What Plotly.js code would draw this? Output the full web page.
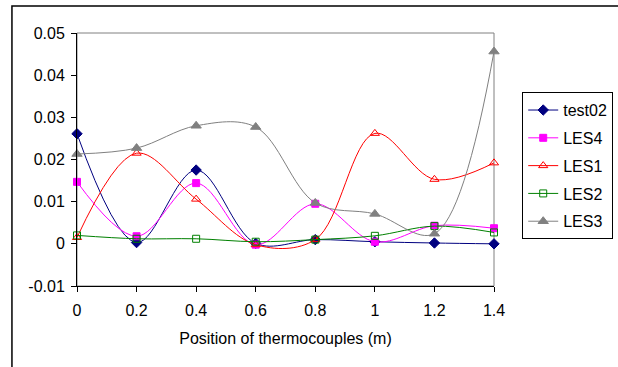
<!DOCTYPE html>
<html><head><meta charset="utf-8">
<script src="https://cdn.plot.ly/plotly-3.0.1.min.js"></script>
<style>html,body{margin:0;padding:0;background:#fff;}#chart{width:618px;height:367px;}</style>
</head><body><div id="chart"></div>
<script>
const positions = [0, 0.2, 0.4, 0.6, 0.8, 1.0, 1.2, 1.4];
const test02 = [0.0261, 0.0003, 0.0175, 0.0001, 0.0010, 0.0005, 0.0002, 0.0000];
const les4   = [0.0147, 0.0018, 0.0144, -0.0002, 0.0095, 0.0005, 0.0043, 0.0037];
const les1   = [0.0015, 0.0215, 0.0106, -0.0002, 0.0010, 0.0262, 0.0153, 0.0192];
const les2   = [0.0020, 0.0012, 0.0012, 0.0005, 0.0010, 0.0019, 0.0042, 0.0027];
const les3   = [0.0213, 0.0227, 0.0280, 0.0277, 0.0097, 0.0071, 0.0024, 0.0456];
const seriesNames = ['test02', 'LES4', 'LES1', 'LES2', 'LES3'];
const xTickVals = [0, 0.2, 0.4, 0.6, 0.8, 1.0, 1.2, 1.4];
const xTickText = ['0', '0.2', '0.4', '0.6', '0.8', '1', '1.2', '1.4'];
const yTickVals = [-0.01, 0, 0.01, 0.02, 0.03, 0.04, 0.05];
const yTickText = ['-0.01', '0', '0.01', '0.02', '0.03', '0.04', '0.05'];

const styles = [
  {color: '#000080', symbol: 'diamond', size: 8},
  {color: '#FF00FF', symbol: 'square', size: 7},
  {color: '#FF0000', symbol: 'triangle-up-open', size: 8},
  {color: '#008000', symbol: 'square-open', size: 7},
  {color: '#808080', symbol: 'triangle-up', size: 9}
];
const values = [test02, les4, les1, les2, les3];
const traces = values.map((v, i) => ({
  x: positions, y: v, name: seriesNames[i], type: 'scatter', mode: 'lines+markers',
  legendgroup: 'g' + i, cliponaxis: false,
  line: {color: styles[i].color, width: 1, shape: 'spline', smoothing: 1},
  marker: {color: styles[i].color, symbol: styles[i].symbol, size: styles[i].size,
           line: {color: styles[i].color, width: 1}}
}));

const font = {family: 'Liberation Sans, Arial, sans-serif', size: 16, color: '#000'};
const layout = {
  width: 618, height: 367,
  margin: {l: 77, r: 124, t: 33, b: 81},
  paper_bgcolor: '#fff', plot_bgcolor: '#fff',
  font: font,
  showlegend: true,
  legend: {xref: 'container', yref: 'container', x: 0.845, y: 0.749,
           xanchor: 'left', yanchor: 'top',
           bordercolor: '#000', borderwidth: 1, bgcolor: '#fff',
           font: font, tracegroupgap: 4, itemwidth: 30},
  xaxis: {range: [0, 1.4], tickvals: xTickVals, ticktext: xTickText,
          showgrid: false, zeroline: false, showline: true, linecolor: '#000', linewidth: 1,
          ticks: 'outside', ticklen: 5, tickcolor: '#000', ticklabelstandoff: 5,
          title: {text: 'Position of thermocouples (m)', font: font, standoff: 14}},
  yaxis: {range: [-0.01, 0.05], tickvals: yTickVals, ticktext: yTickText,
          showgrid: false, zeroline: false, showline: true, linecolor: '#000', linewidth: 1,
          ticks: 'outside', ticklen: 5, tickcolor: '#000', ticklabelstandoff: 3},
  shapes: [
    {type: 'rect', xref: 'paper', yref: 'paper', x0: 0, x1: 1, y0: 0, y1: 1,
     line: {color: '#808080', width: 1}, layer: 'below'},
    {type: 'rect', xref: 'paper', yref: 'paper', x0: -0.156, x1: 1.4, y0: -0.4, y1: 1.107,
     line: {color: '#000', width: 1.5}, layer: 'below'}
  ]
};
Plotly.newPlot('chart', traces, layout, {displayModeBar: false, staticPlot: true});
</script></body></html>
